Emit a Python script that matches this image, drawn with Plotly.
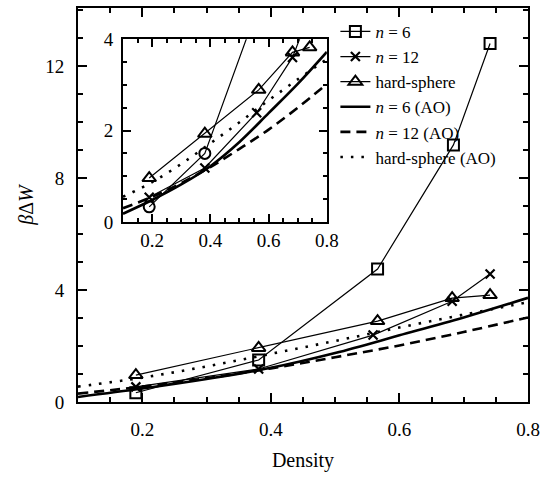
import plotly.graph_objects as go

density_n6 = [0.19, 0.381, 0.566, 0.684, 0.741]
dw_n6 = [0.33, 1.5, 4.75, 9.18, 12.8]
density_n12 = [0.19, 0.381, 0.559, 0.682, 0.741]
dw_n12 = [0.54, 1.18, 2.39, 3.6, 4.57]
density_hs = [0.19, 0.381, 0.566, 0.682, 0.741]
dw_hs = [0.96, 1.93, 2.89, 3.71, 3.82]

density_ao = [0.1, 0.2, 0.3, 0.4, 0.5, 0.6, 0.7, 0.8]
ao_n6 = [0.18, 0.48, 0.82, 1.22, 1.75, 2.38, 3.02, 3.72]
ao_n12 = [0.3, 0.55, 0.85, 1.2, 1.6, 2.02, 2.5, 3.02]
ao_hs = [0.55, 0.87, 1.27, 1.72, 2.18, 2.66, 3.12, 3.56]

FONT = "Liberation Serif"
K = "black"

fig = go.Figure()

def add_sets(xa, ya, legend, n6_symbol):
    fig.add_trace(go.Scatter(x=density_n6, y=dw_n6, mode="lines+markers", name="<i>n</i> = 6",
                             line=dict(color=K, width=1.2),
                             marker=dict(symbol=n6_symbol, size=11, color=K, line=dict(width=2, color=K)),
                             xaxis=xa, yaxis=ya, showlegend=legend))
    fig.add_trace(go.Scatter(x=density_n12, y=dw_n12, mode="lines+markers", name="<i>n</i> = 12",
                             line=dict(color=K, width=1.2),
                             marker=dict(symbol="x-thin", size=9, color=K, line=dict(width=2.2, color=K)),
                             xaxis=xa, yaxis=ya, showlegend=legend))
    fig.add_trace(go.Scatter(x=density_hs, y=dw_hs, mode="lines+markers", name="hard-sphere",
                             line=dict(color=K, width=1.2),
                             marker=dict(symbol="triangle-up-open", size=12, color=K, line=dict(width=2, color=K)),
                             xaxis=xa, yaxis=ya, showlegend=legend))
    fig.add_trace(go.Scatter(x=density_ao, y=ao_n6, mode="lines", name="<i>n</i> = 6 (AO)",
                             line=dict(color=K, width=2.6, shape="spline"),
                             xaxis=xa, yaxis=ya, showlegend=legend))
    fig.add_trace(go.Scatter(x=density_ao, y=ao_n12, mode="lines", name="<i>n</i> = 12 (AO)",
                             line=dict(color=K, width=2.6, dash="10px,6px", shape="spline"),
                             xaxis=xa, yaxis=ya, showlegend=legend))
    fig.add_trace(go.Scatter(x=density_ao, y=ao_hs, mode="lines", name="hard-sphere (AO)",
                             line=dict(color=K, width=2.6, dash="2.5px,8px", shape="spline"),
                             xaxis=xa, yaxis=ya, showlegend=legend))

add_sets("x", "y", True, "square-open")
add_sets("x2", "y2", False, "circle-open")

axis_common = dict(showgrid=False, zeroline=False, showline=True, linecolor=K, linewidth=2,
                   mirror="ticks", ticks="inside", tickcolor=K, tickwidth=2, automargin=False,
                   tickfont=dict(family=FONT, size=19, color=K))

fig.update_layout(
    width=545, height=477,
    margin=dict(l=78, r=17, t=8, b=75, autoexpand=False),
    paper_bgcolor="white", plot_bgcolor="white",
    font=dict(family=FONT, size=17, color=K),
    xaxis=dict(range=[0.1, 0.8], tickvals=[0.2, 0.4, 0.6, 0.8], ticktext=["0.2", "0.4", "0.6", "0.8"],
               ticklen=9, ticklabelstandoff=9,
               minor=dict(dtick=0.05, tick0=0, ticklen=5, tickwidth=1.5, tickcolor=K, ticks="inside"),
               title=dict(text="Density", font=dict(family=FONT, size=20, color=K), standoff=14),
               domain=[0, 1], **axis_common),
    yaxis=dict(range=[0, 14.07], tickvals=[0, 4, 8, 12], ticklen=9, ticklabelstandoff=8,
               minor=dict(dtick=1, tick0=0, ticklen=5, tickwidth=1.5, tickcolor=K, ticks="inside"),
               title=dict(text="<i>β</i>Δ<i>W</i>", font=dict(family=FONT, size=20, color=K), standoff=6),
               domain=[0, 1], **axis_common),
    xaxis2=dict(range=[0.1, 0.8], tickvals=[0.2, 0.4, 0.6, 0.8], ticktext=["0.2", "0.4", "0.6", "0.8"],
                ticklen=8, minor=dict(dtick=0.05, tick0=0, ticklen=4, tickwidth=1.5, tickcolor=K, ticks="inside"),
                domain=[0.1, 0.553], anchor="y2", **axis_common),
    yaxis2=dict(range=[0, 4], tickvals=[0, 2, 4], ticklen=8, ticklabelstandoff=4,
                minor=dict(dtick=0.5, tick0=0, ticklen=4, tickwidth=1.5, tickcolor=K, ticks="inside"),
                domain=[0.457, 0.921], anchor="x2", **axis_common),
    legend=dict(x=0.572, y=0.985, xanchor="left", yanchor="top", bgcolor="rgba(0,0,0,0)",
                font=dict(family=FONT, size=17, color=K), tracegroupgap=0, itemwidth=30),
    showlegend=True,
)

fig.write_html("out.html", config={"displayModeBar": False},
               post_script="document.body.style.margin='0';document.body.style.padding='0';")
